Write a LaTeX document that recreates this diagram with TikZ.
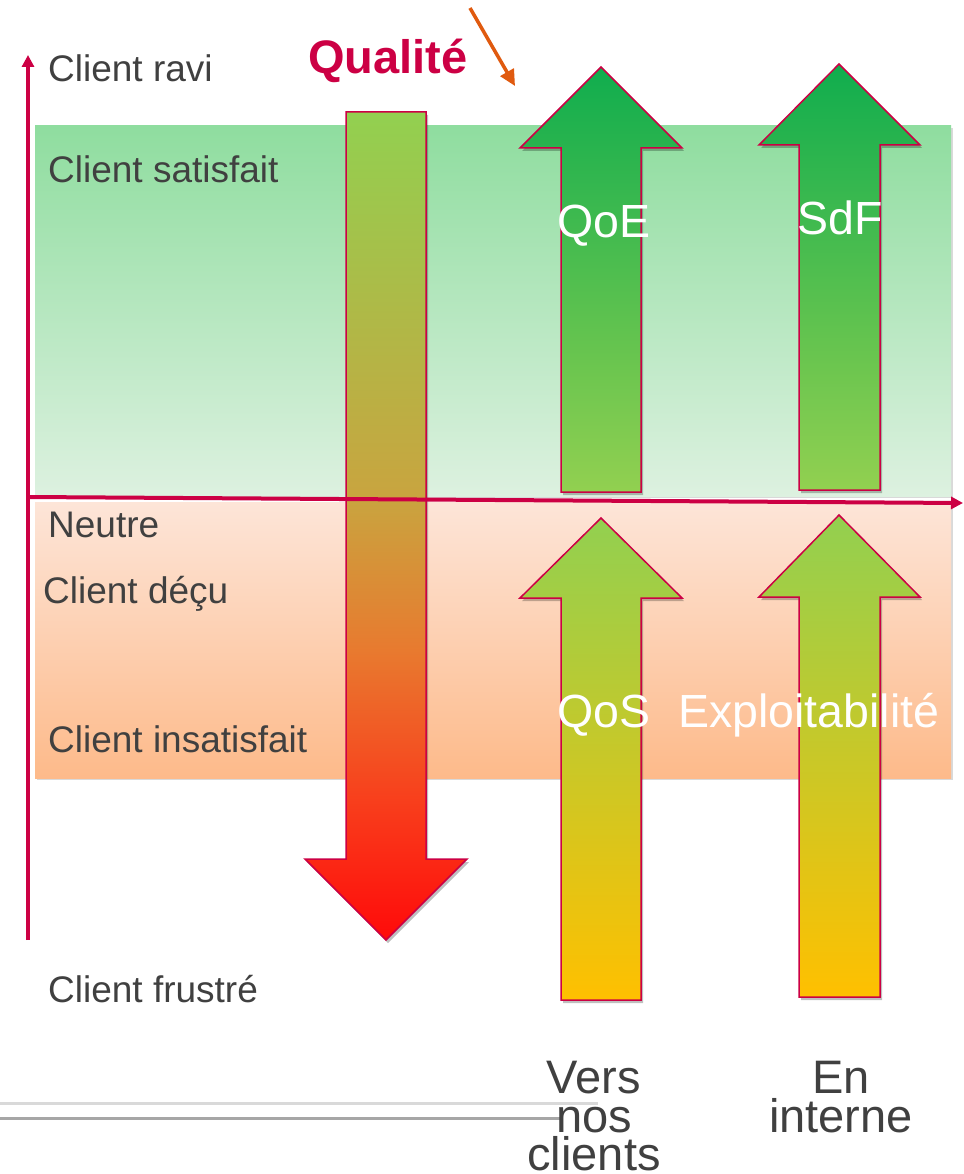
\documentclass[tikz,border=0pt]{standalone}
\usepackage{fontspec}
\setmainfont{Liberation Sans}
\usetikzlibrary{arrows.meta,shadows}
\definecolor{crim}{HTML}{CC0044}
\definecolor{txtgray}{HTML}{404040}
\definecolor{qgreen}{HTML}{92D050}
\definecolor{qochre}{HTML}{C9A43F}
\definecolor{qorange}{HTML}{E87A2F}
\definecolor{qredor}{HTML}{F83F1C}
\definecolor{qred}{HTML}{FF0A0A}
\definecolor{dkgreen}{HTML}{10AD4E}
\definecolor{gold}{HTML}{FFC000}
\definecolor{bandgtop}{HTML}{8FDD9F}
\definecolor{bandgbot}{HTML}{DDF1E0}
\definecolor{bandotop}{HTML}{FDE5D8}
\definecolor{bandobot}{HTML}{FDBA8A}
\definecolor{pointer}{HTML}{E05A0F}
\pgfdeclareverticalshading{qualshade}{100bp}{color(0bp)=(qred); color(25bp)=(qred); color(33.5bp)=(qredor); color(42.5bp)=(qorange); color(51.6bp)=(qochre); color(75bp)=(qgreen); color(100bp)=(qgreen)}
\tikzset{
  bigarrow/.style={draw=crim, line width=1.5pt, line join=miter,
    drop shadow={shadow xshift=2pt, shadow yshift=-3pt, opacity=0.25, fill=black}},
  band/.style={drop shadow={shadow xshift=2pt, shadow yshift=-2pt, opacity=0.15, fill=black}},
  axis/.style={draw=crim, line width=4pt, -{Triangle[length=12pt,width=12pt]}},
  lbl/.style={inner sep=0pt, text=txtgray, font=\fontsize{37}{40}\selectfont},
  inlbl/.style={inner sep=0pt, text=white, font=\fontsize{46.5}{48}\selectfont},
  botlbl/.style={inner sep=0pt, text=txtgray, align=center, font=\fontsize{47}{38.5}\selectfont}
}
\begin{document}
\begin{tikzpicture}[x=1pt,y=-1pt]
\useasboundingbox[fill=white] (0,0) rectangle (963,1174);
% bands
\path[band, top color=bandgtop, bottom color=bandgbot] (35,126) rectangle (951,496);
\path[band, top color=bandotop, bottom color=bandobot] (35,502) rectangle (951,778);
% quality arrow
\path[bigarrow, shading=qualshade] (346,112) -- (426,112) -- (426,859) -- (467,859) -- (386,940) -- (305,859) -- (346,859) -- cycle;
% axes
\coordinate (O) at (28,940);
\coordinate (Ytop) at (28,55);
\coordinate (Xl) at (28,497);
\coordinate (Xr) at (963,503);
\draw[axis] (O) -- (Ytop);
\draw[axis] (Xl) -- (Xr);
% up arrows
\path[bigarrow, top color=dkgreen, bottom color=qgreen] (561,492) -- (561,148) -- (520,148) -- (601,67) -- (682,148) -- (641,148) -- (641,492) -- cycle;
\path[bigarrow, top color=dkgreen, bottom color=qgreen] (799,490) -- (799,145) -- (759,145) -- (839,64) -- (920,145) -- (880,145) -- (880,490) -- cycle;
\path[bigarrow, top color=qgreen, bottom color=gold] (561,1000) -- (561,598) -- (520,598) -- (601,518) -- (682,598) -- (641,598) -- (641,1000) -- cycle;
\path[bigarrow, top color=qgreen, bottom color=gold] (799,997) -- (799,597) -- (759,597) -- (839,515) -- (920,597) -- (880,597) -- (880,997) -- cycle;
% orange pointer
\coordinate (P1) at (470,8);
\coordinate (P2) at (515,86);
\draw[pointer, line width=3.5pt, -{Triangle[length=16pt,width=15pt]}] (P1) -- (P2);
% bottom gray lines
\coordinate (G1a) at (0,1103);
\coordinate (G1b) at (598,1103);
\coordinate (G2a) at (0,1118);
\coordinate (G2b) at (560,1118);
\draw[line width=3pt, black!15] (G1a) -- (G1b);
\draw[line width=3pt, black!35] (G2a) -- (G2b);
% labels
\node[lbl, anchor=base west] (ravi) at (48,82) {Client ravi};
\node[lbl, anchor=base west] (satis) at (48,183) {Client satisfait};
\node[lbl, anchor=base west] (neutre) at (48,537) {Neutre};
\node[lbl, anchor=base west] (decu) at (43,603) {Client déçu};
\node[lbl, anchor=base west] (insat) at (48,752) {Client insatisfait};
\node[lbl, anchor=base west] (frus) at (48,1002) {Client frustré};
\node[inner sep=0pt, anchor=base west, text=crim, font=\fontsize{47}{50}\selectfont\bfseries] (qual) at (308,74) {Qualité};
\node[inlbl, anchor=base west] (qoe) at (557,238) {QoE};
\node[inlbl, anchor=base west] (sdf) at (797,234) {SdF};
\node[inlbl, anchor=base west] (qos) at (557,727) {QoS};
\node[inlbl, anchor=base west] (expl) at (678,727) {Exploitabilité};
\node[botlbl, anchor=north] (vers) at (594,1061) {Vers\\nos\\clients};
\node[botlbl, anchor=north] (interne) at (841,1061) {En\\interne};
\end{tikzpicture}
\end{document}
